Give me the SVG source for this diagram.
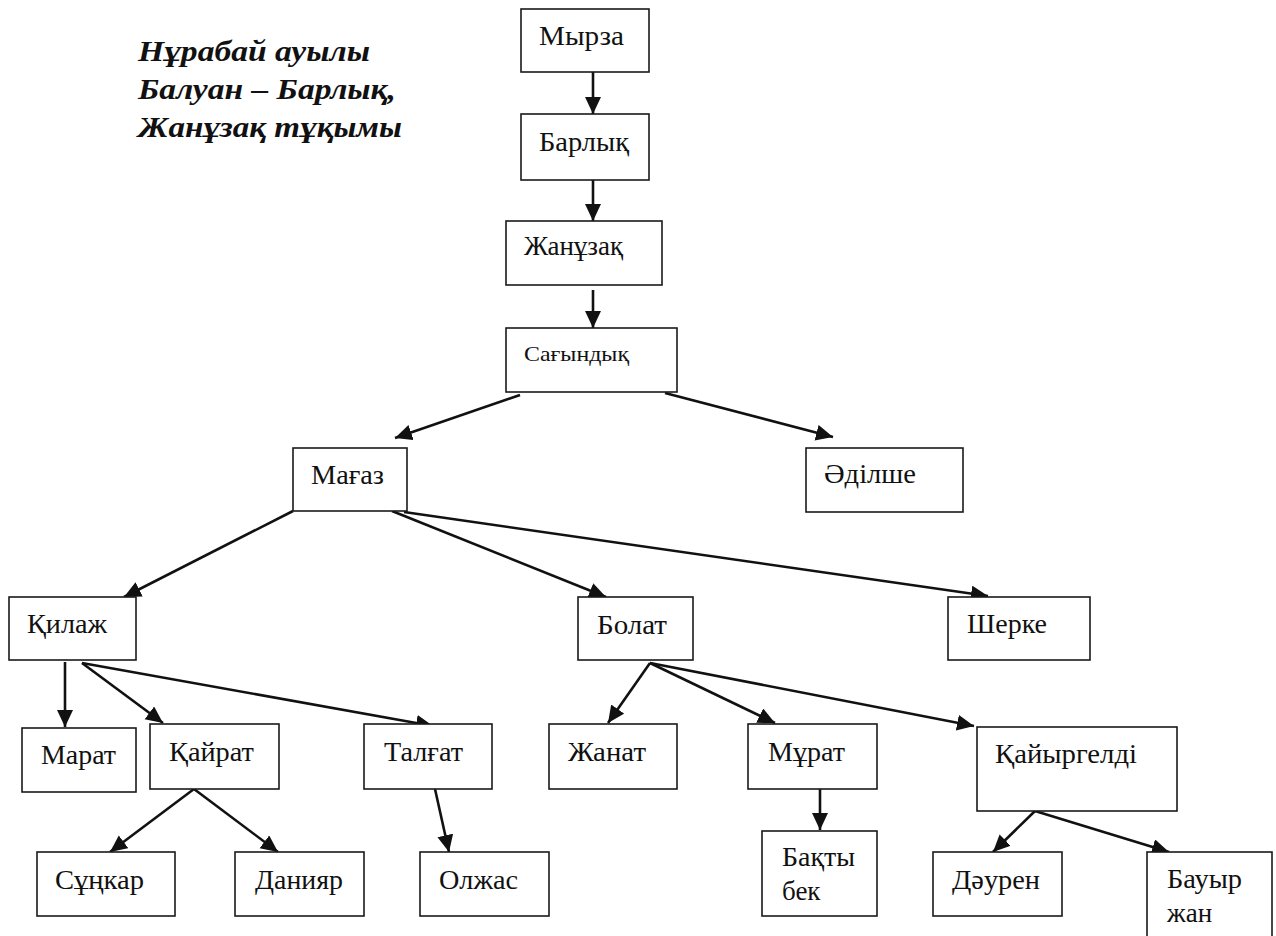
<svg xmlns="http://www.w3.org/2000/svg" width="1276" height="936" viewBox="0 0 1276 936">
<style>
.box{fill:#fff;stroke:#1a1a1a;stroke-width:1.6}
.t{font-family:"Liberation Serif","DejaVu Serif","Times New Roman",serif;font-size:27px;fill:#111}
.s{font-size:21px}
.title{font-family:"Liberation Serif","DejaVu Serif","Times New Roman",serif;font-size:29px;font-weight:bold;font-style:italic;fill:#111}
.c line{stroke:#111;stroke-width:2.6;marker-end:url(#ah)}
</style>
<defs>
<marker id="ah" markerUnits="userSpaceOnUse" markerWidth="18" markerHeight="17" refX="17" refY="8" orient="auto">
<path d="M0,0 L17,8 L0,16 z" fill="#111"/>
</marker>
</defs>
<rect width="1276" height="936" fill="#fff"/>
<g id="title">
<text class="title" x="138" y="61" textLength="232" lengthAdjust="spacingAndGlyphs">Нұрабай ауылы</text>
<text class="title" x="138" y="99" textLength="258" lengthAdjust="spacingAndGlyphs">Балуан – Барлық,</text>
<text class="title" x="138" y="137" textLength="264" lengthAdjust="spacingAndGlyphs">Жанұзақ тұқымы</text>
</g>
<g class="c" id="connectors">
<line x1="593" y1="72" x2="593" y2="114"/>
<line x1="593" y1="180" x2="593" y2="221"/>
<line x1="593" y1="290" x2="593" y2="328"/>
<line x1="520" y1="395" x2="395" y2="438"/>
<line x1="665" y1="393" x2="833" y2="437"/>
<line x1="293" y1="511" x2="124" y2="597"/>
<line x1="392" y1="511" x2="606" y2="597"/>
<line x1="404" y1="512" x2="988" y2="596"/>
<line x1="65" y1="662" x2="65" y2="727"/>
<line x1="82" y1="663" x2="163" y2="723"/>
<line x1="82" y1="663" x2="433" y2="726"/>
<line x1="650" y1="663" x2="608" y2="723"/>
<line x1="650" y1="663" x2="775" y2="723"/>
<line x1="650" y1="663" x2="974" y2="726"/>
<line x1="194" y1="789" x2="110" y2="852"/>
<line x1="194" y1="789" x2="278" y2="852"/>
<line x1="435" y1="789" x2="449" y2="852"/>
<line x1="820" y1="789" x2="820" y2="830"/>
<line x1="1035" y1="811" x2="993" y2="852"/>
<line x1="1035" y1="811" x2="1169" y2="852"/>
</g>
<g id="n-myrza"><rect class="box" x="521" y="9" width="128" height="63"/><text class="t" x="539" y="45" textLength="85" lengthAdjust="spacingAndGlyphs">Мырза</text></g>
<g id="n-barlyk"><rect class="box" x="521" y="114" width="128" height="66"/><text class="t" x="539" y="151" textLength="90" lengthAdjust="spacingAndGlyphs">Барлық</text></g>
<g id="n-zhanuzak"><rect class="box" x="506" y="221" width="156" height="64"/><text class="t" x="524" y="255" textLength="99" lengthAdjust="spacingAndGlyphs">Жанұзақ</text></g>
<g id="n-sagyndyk"><rect class="box" x="506" y="328" width="171" height="64"/><text class="t s" x="524" y="361" textLength="105" lengthAdjust="spacingAndGlyphs">Сағындық</text></g>
<g id="n-magaz"><rect class="box" x="293" y="448" width="114" height="63"/><text class="t" x="311" y="484" textLength="73" lengthAdjust="spacingAndGlyphs">Мағаз</text></g>
<g id="n-adilshe"><rect class="box" x="806" y="448" width="157" height="64"/><text class="t" x="824" y="483" textLength="92" lengthAdjust="spacingAndGlyphs">Әділше</text></g>
<g id="n-kilazh"><rect class="box" x="9" y="597" width="127" height="63"/><text class="t" x="27" y="633" textLength="80" lengthAdjust="spacingAndGlyphs">Қилаж</text></g>
<g id="n-bolat"><rect class="box" x="578" y="597" width="115" height="63"/><text class="t" x="597" y="634" textLength="70" lengthAdjust="spacingAndGlyphs">Болат</text></g>
<g id="n-sherke"><rect class="box" x="948" y="597" width="142" height="63"/><text class="t" x="967" y="633" textLength="80" lengthAdjust="spacingAndGlyphs">Шерке</text></g>
<g id="n-marat"><rect class="box" x="22" y="728" width="114" height="64"/><text class="t" x="41" y="764" textLength="75" lengthAdjust="spacingAndGlyphs">Марат</text></g>
<g id="n-kairat"><rect class="box" x="150" y="724" width="129" height="65"/><text class="t" x="169" y="761" textLength="85" lengthAdjust="spacingAndGlyphs">Қайрат</text></g>
<g id="n-talgat"><rect class="box" x="364" y="724" width="128" height="65"/><text class="t" x="384" y="761" textLength="79" lengthAdjust="spacingAndGlyphs">Талғат</text></g>
<g id="n-zhanat"><rect class="box" x="549" y="724" width="128" height="65"/><text class="t" x="568" y="761" textLength="78" lengthAdjust="spacingAndGlyphs">Жанат</text></g>
<g id="n-murat"><rect class="box" x="748" y="724" width="129" height="65"/><text class="t" x="768" y="761" textLength="77" lengthAdjust="spacingAndGlyphs">Мұрат</text></g>
<g id="n-kairgeldi"><rect class="box" x="977" y="727" width="200" height="84"/><text class="t" x="995" y="763" textLength="142" lengthAdjust="spacingAndGlyphs">Қайыргелді</text></g>
<g id="n-sunkar"><rect class="box" x="37" y="852" width="138" height="64"/><text class="t" x="55" y="889" textLength="89" lengthAdjust="spacingAndGlyphs">Сұңкар</text></g>
<g id="n-daniyar"><rect class="box" x="235" y="852" width="129" height="64"/><text class="t" x="255" y="889" textLength="88" lengthAdjust="spacingAndGlyphs">Данияр</text></g>
<g id="n-olzhas"><rect class="box" x="420" y="852" width="129" height="64"/><text class="t" x="439" y="889" textLength="79" lengthAdjust="spacingAndGlyphs">Олжас</text></g>
<g id="n-baktybek"><rect class="box" x="762" y="831" width="115" height="85"/><text class="t" x="782" y="866" textLength="73" lengthAdjust="spacingAndGlyphs">Бақты</text><text class="t" x="782" y="900">бек</text></g>
<g id="n-dauren"><rect class="box" x="933" y="852" width="129" height="64"/><text class="t" x="952" y="889" textLength="88" lengthAdjust="spacingAndGlyphs">Дәурен</text></g>
<g id="n-bauyrzhan"><rect class="box" x="1147" y="852" width="125" height="100"/><text class="t" x="1167" y="888" textLength="75" lengthAdjust="spacingAndGlyphs">Бауыр</text><text class="t" x="1167" y="922">жан</text></g>
</svg>
